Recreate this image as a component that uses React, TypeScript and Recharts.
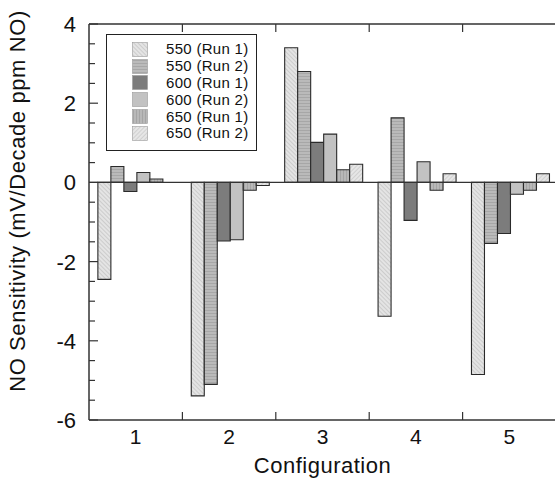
import { Bar, BarChart, Legend, ReferenceLine, XAxis, YAxis } from 'recharts';

const configs = ['1', '2', '3', '4', '5'];
const run550a = [-2.45, -5.39, 3.4, -3.38, -4.85];
const run550b = [0.4, -5.1, 2.8, 1.63, -1.54];
const run600a = [-0.23, -1.48, 1.01, -0.96, -1.29];
const run600b = [0.25, -1.45, 1.22, 0.52, -0.3];
const run650a = [0.085, -0.2, 0.32, -0.2, -0.2];
const run650b = [0, -0.08, 0.46, 0.22, 0.22];
const yTicks = [-6, -5.5, -5, -4.5, -4, -3.5, -3, -2.5, -2, -1.5, -1, -0.5, 0, 0.5, 1, 1.5, 2, 2.5, 3, 3.5, 4];

const series = [
  { key: 's1', name: '550 (Run 1)', values: run550a, fill: 'url(#hatchA)' },
  { key: 's2', name: '550 (Run 2)', values: run550b, fill: 'url(#horiz)' },
  { key: 's3', name: '600 (Run 1)', values: run600a, fill: '#7c7c7c' },
  { key: 's4', name: '600 (Run 2)', values: run600b, fill: '#c2c2c2' },
  { key: 's5', name: '650 (Run 1)', values: run650a, fill: 'url(#vert)' },
  { key: 's6', name: '650 (Run 2)', values: run650b, fill: 'url(#hatchB)' },
];

const data = configs.map((c, i) => {
  const row: Record<string, string | number> = { config: c };
  series.forEach((s) => { row[s.key] = s.values[i]; });
  return row;
});

const FONT = '"Liberation Sans", Arial, sans-serif';
const AXIS = '#333';
const TOP = 24;
const PLOT_H = 396;

// left axis: ticks point into the plot, labels only on even values
function LeftTick(props: any) {
  const x = Number(props.x);
  const y = Number(props.y);
  const v = props.payload.value as number;
  const major = v % 2 === 0;
  return (
    <g>
      <path d={`M${x},${y}H${x + (major ? 9 : 6)}`} stroke={AXIS} strokeWidth={1.2} fill="none" />
      {major && (
        <text x={x - 13} y={y} dy={8} textAnchor="end" fontSize={22} fontFamily={FONT} fill="#111">
          {v}
        </text>
      )}
    </g>
  );
}

function RightTick(props: any) {
  const x = Number(props.x);
  const y = Number(props.y);
  const major = (props.payload.value as number) % 2 === 0;
  return <path d={`M${x},${y}H${x - (major ? 8 : 4)}`} stroke={AXIS} strokeWidth={1.2} fill="none" />;
}

// bottom axis: label under the category, boundary ticks on bottom and top frame,
// the first tick also draws the top frame line
function BottomTick(props: any) {
  const x = Number(props.x);
  const y = Number(props.y);
  const { payload, index } = props;
  const half = Number(payload.offset) || 46.7;
  const bx = x + half;
  const last = index === configs.length - 1;
  const topY = y - PLOT_H;
  return (
    <g>
      {index === 0 && (
        <rect x={x - half} y={topY - 0.75} width={half * 2 * configs.length} height={1.5} fill={AXIS} />
      )}
      {!last && <rect x={bx - 0.6} y={y - 8} width={1.2} height={8} fill={AXIS} />}
      {!last && <rect x={bx - 0.6} y={topY} width={1.2} height={8} fill={AXIS} />}
      <text x={x} y={y + 24} textAnchor="middle" fontSize={21} fontFamily={FONT} fill="#111">
        {payload.value}
      </text>
    </g>
  );
}

function LegendBox() {
  return (
    <div
      style={{
        border: '1.5px solid #222',
        width: 151,
        height: 117,
        boxSizing: 'border-box',
        padding: '6px 0 0 25px',
        background: '#fff',
      }}
    >
      {series.map((s) => (
        <div key={s.key} style={{ display: 'flex', alignItems: 'center', height: 16.8 }}>
          <svg width={16} height={15} style={{ marginRight: 18 }}>
            <rect x={0.5} y={0.5} width={15} height={14} fill={s.fill} stroke="#999" strokeWidth={0.6} />
          </svg>
          <span style={{ fontFamily: FONT, fontSize: 15, letterSpacing: 0.3, color: '#111', lineHeight: '16px' }}>
            {s.name}
          </span>
        </div>
      ))}
    </div>
  );
}

function YLabel(props: any) {
  const vb = props.viewBox || { x: 0, y: TOP, height: PLOT_H };
  const cx = 25;
  const cy = vb.y + vb.height / 2 - 21;
  return (
    <text
      x={cx}
      y={cy}
      transform={`rotate(-90, ${cx}, ${cy})`}
      textAnchor="middle"
      fontSize={22}
      letterSpacing={0.6}
      fontFamily={FONT}
      fill="#111"
    >
      NO Sensitivity (mV/Decade ppm NO)
    </text>
  );
}

export default function App() {
  return (
    <div style={{ position: 'absolute', left: 0, top: 0, width: 555, height: 479, background: '#fff' }}>
      <BarChart
        width={555}
        height={479}
        data={data}
        margin={{ top: TOP, right: -1, bottom: 0, left: 0 }}
        barCategoryGap="9.5%"
        barGap={0}
      >
        <defs>
          <pattern id="hatchA" width="3" height="3" patternUnits="userSpaceOnUse" patternTransform="rotate(-45)">
            <rect width="3" height="3" fill="#e4e4e4" />
            <line x1="0" y1="0" x2="0" y2="3" stroke="#a8a8a8" strokeWidth="0.8" />
          </pattern>
          <pattern id="horiz" width="3" height="3" patternUnits="userSpaceOnUse">
            <rect width="3" height="3" fill="#bababa" />
            <line x1="0" y1="1.5" x2="3" y2="1.5" stroke="#a2a2a2" strokeWidth="0.8" />
          </pattern>
          <pattern id="vert" width="3" height="3" patternUnits="userSpaceOnUse">
            <rect width="3" height="3" fill="#b8b8b8" />
            <line x1="1.5" y1="0" x2="1.5" y2="3" stroke="#a0a0a0" strokeWidth="0.8" />
          </pattern>
          <pattern id="hatchB" width="3" height="3" patternUnits="userSpaceOnUse" patternTransform="rotate(45)">
            <rect width="3" height="3" fill="#e6e6e6" />
            <line x1="0" y1="0" x2="0" y2="3" stroke="#b0b0b0" strokeWidth="0.8" />
          </pattern>
        </defs>
        <XAxis
          dataKey="config"
          height={59}
          tickSize={0}
          tickMargin={0}
          tickLine={false}
          interval={0}
          stroke={AXIS}
          strokeWidth={1.5}
          tick={<BottomTick />}
          label={{ value: 'Configuration', position: 'insideBottom', offset: 6, fontSize: 22, letterSpacing: 0.5, fontFamily: FONT, fill: '#111' }}
        />
        <YAxis
          width={89}
          domain={[-6, 4]}
          ticks={yTicks}
          interval={0}
          tickSize={0}
          tickMargin={0}
          tickLine={false}
          allowDataOverflow
          stroke={AXIS}
          strokeWidth={1.5}
          tick={<LeftTick />}
          label={<YLabel />}
        />
        <YAxis
          yAxisId="right"
          orientation="right"
          width={0}
          domain={[-6, 4]}
          ticks={yTicks}
          interval={0}
          tickSize={0}
          tickMargin={0}
          tickLine={false}
          stroke={AXIS}
          strokeWidth={1.5}
          tick={<RightTick />}
        />
        <Legend
          layout="vertical"
          align="center"
          verticalAlign="middle"
          content={<LegendBox />}
          wrapperStyle={{ left: 106, top: 34, width: 152, height: 118 }}
        />
        {series.map((s) => (
          <Bar
            key={s.key}
            dataKey={s.key}
            name={s.name}
            fill={s.fill}
            stroke="#2a2a2a"
            strokeWidth={1.1}
            isAnimationActive={false}
          />
        ))}
        <ReferenceLine y={0} stroke={AXIS} strokeWidth={1.3} />
      </BarChart>
    </div>
  );
}
